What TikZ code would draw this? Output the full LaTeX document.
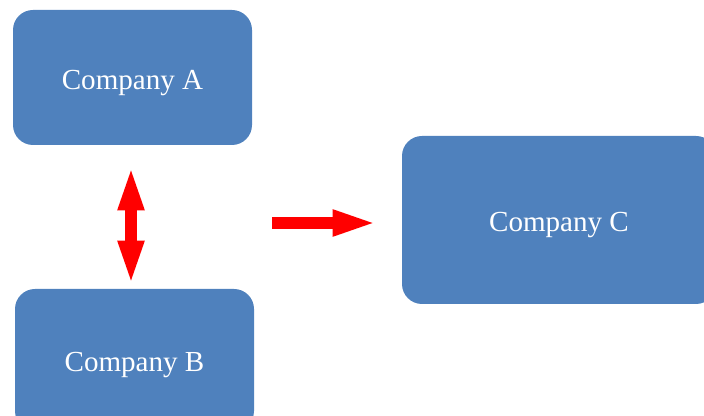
\documentclass[tikz,border=0pt]{standalone}
\usepackage{fontspec}
\setmainfont{Liberation Serif}
\usetikzlibrary{arrows.meta}
\definecolor{boxblue}{HTML}{4F81BD}
\def\firmfont{\fontsize{21.8}{24}\selectfont}

\begin{document}
\begin{tikzpicture}[x=0.75pt,y=-0.75pt,
    firm/.style={rectangle, rounded corners=15pt, fill=boxblue, text=white,
        font=\firmfont, inner sep=0pt, text height=18pt, text depth=0pt},
    redarrow/.style={draw=red, line width=9.5pt}]
    \useasboundingbox (0,0) rectangle (704,416);
    \clip (0,0) rectangle (704,416);
    \node[firm, minimum width=179.25pt, minimum height=101.25pt] (A) at (132.5,77.5) {Company A};
    \node[firm, minimum width=179.25pt, minimum height=106.5pt] (B) at (134.5,360) {Company B};
    \node[firm, minimum width=235.5pt, minimum height=126pt] (C) at (559,220) {Company C};
    \coordinate (ab top) at (131,165);
    \coordinate (ab bot) at (131,286);
    \coordinate (to c start) at (272,223);
    \coordinate (to c end) at (378,223);
    \draw[redarrow, {Triangle[length=34pt,width=17.5pt]}-{Triangle[length=34pt,width=17.5pt]}] (ab top) -- (ab bot);
    \draw[redarrow, -{Triangle[length=34pt,width=17.5pt]}] (to c start) -- (to c end);
\end{tikzpicture}
\end{document}
